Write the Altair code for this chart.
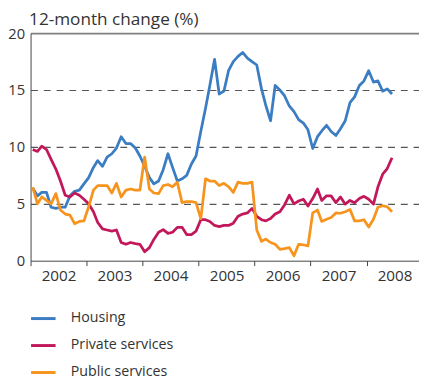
import altair as alt
import pandas as pd

series_names = ["Housing", "Private services", "Public services"]
series_colors = ["#3b7dc2", "#c2185b", "#f7941d"]

housing = [6.4, 5.7, 6.0, 6.0, 4.7, 4.6, 4.7, 4.7, 5.7, 6.1, 6.2, 6.75, 7.3, 8.2, 8.8, 8.3, 9.1, 9.4, 9.9, 10.9, 10.3,
           10.3, 9.9, 9.2, 8.3, 7.3, 6.75, 7.0, 8.0, 9.4, 8.2, 7.0, 7.2, 7.5, 8.5, 9.2, 11.35, 13.4, 15.4, 17.7,
           14.65, 14.9, 16.7, 17.5, 17.96, 18.3, 17.8, 17.5, 17.2, 15.1, 13.65, 12.3, 15.4, 15.0, 14.5, 13.6, 13.1, 12.4, 12.1, 11.5,
           9.86, 10.9, 11.4, 11.9, 11.35, 11.0, 11.6, 12.3, 13.9, 14.4, 15.4, 15.8, 16.7, 15.7, 15.8, 14.9, 15.1, 14.65]
private = [9.77, 9.6, 10.06, 9.77, 8.9, 8.05, 7.0, 5.75, 5.6, 5.95, 5.75, 5.4, 5.0, 4.3, 3.36, 2.8, 2.7, 2.6, 2.7, 1.6, 1.44,
           1.6, 1.5, 1.44, 0.78, 1.15, 1.87, 2.5, 2.73, 2.4, 2.5, 2.93, 2.93, 2.3, 2.3, 2.6, 3.6, 3.6, 3.45, 3.1,
           3.0, 3.1, 3.1, 3.3, 3.9, 4.1, 4.2, 4.6, 3.9, 3.6, 3.5, 3.7, 4.1, 4.3, 4.9, 5.75, 5.0, 5.25, 5.4, 4.8,
           5.46, 6.3, 5.3, 5.7, 5.7, 5.1, 5.6, 4.97, 5.3, 5.1, 5.46, 5.66, 5.4, 4.97, 6.47, 7.6, 8.1, 9.05]
public = [6.47, 5.0, 5.6, 5.3, 5.0, 5.9, 4.45, 4.1, 4.0, 3.25, 3.45, 3.5, 4.74, 6.2, 6.6, 6.6, 6.6, 5.95, 6.8, 5.6, 6.2,
          6.3, 6.2, 6.2, 9.1, 6.3, 5.95, 5.9, 6.6, 6.7, 6.5, 6.9, 5.1, 5.2, 5.2, 5.1, 3.7,
          7.2, 7.0, 7.0, 6.6, 6.8, 6.5, 6.0, 6.9, 6.8, 6.8, 6.9,
          2.7, 1.7, 1.9, 1.6, 1.44, 1.0, 1.06, 1.15, 0.43, 1.44, 1.4, 1.3,
          4.2, 4.45, 3.45, 3.65, 3.8, 4.2, 4.17, 4.3, 4.5, 3.5, 3.5, 3.6, 2.96, 3.65, 4.7, 4.83, 4.74, 4.3]

years = [2002, 2003, 2004, 2005, 2006, 2007, 2008]
y_ticks = [0, 5, 10, 15, 20]

dates = (pd.date_range("2002-01-01", periods=len(housing), freq="MS") + pd.Timedelta(days=14)).strftime("%Y-%m-%d")
rows = []
for name, vals in zip(series_names, [housing, private, public]):
    for d, v in zip(dates, vals):
        rows.append({"date": d, "value": v, "series": name})
df = pd.DataFrame(rows)

FONT = "Open Sans"
TXT = "#333333"

x_enc = alt.X(
    "date:T",
    scale=alt.Scale(domain=[alt.DateTime(year=2002, month=1, date=1),
                            alt.DateTime(year=2008, month=12, date=8)]),
    axis=alt.Axis(
        values=[alt.DateTime(year=y, month=1, date=1) for y in years],
        format="%Y", title=None, grid=False,
        labelOffset=28.5, labelFlush=False, labelOverlap=False, labelBound=False,
        tickSize=5, tickColor="#444444", domainColor="#444444",
        labelPadding=3, labelFontSize=15.5, labelFont=FONT, labelColor=TXT,
    ),
)
y_enc = alt.Y(
    "value:Q",
    scale=alt.Scale(domain=[0, 20], nice=False),
    axis=alt.Axis(
        values=y_ticks, ticks=False, domainColor="#444444",
        labelPadding=6, labelFontSize=15, labelFont=FONT, labelColor=TXT,
        grid=True,
        gridColor={"condition": {"test": "datum.value === 20", "value": "#7f7f7f"}, "value": "#555555"},
        gridDash={"condition": {"test": "datum.value === 20", "value": [1, 0]}, "value": [7, 6]},
        gridWidth={"condition": {"test": "datum.value === 20", "value": 1.6}, "value": 1.2},
        gridOpacity={"condition": {"test": "datum.value === 0", "value": 0}, "value": 1},
        title="12-month change (%)", titleAngle=0, titleAlign="left", titleBaseline="alphabetic",
        titleX=-2, titleY=-8.5, titleFont=FONT, titleFontSize=17.5, titleFontWeight="normal", titleColor=TXT,
    ),
)

chart = alt.Chart(df).mark_line(strokeWidth=2.8, strokeJoin="round").encode(
    x=x_enc,
    y=y_enc,
    color=alt.Color(
        "series:N",
        scale=alt.Scale(domain=series_names, range=series_colors),
        legend=alt.Legend(
            title=None, orient="none", legendX=-1, legendY=277, direction="vertical",
            symbolType="stroke", symbolStrokeWidth=3, symbolSize=625,
            labelFont=FONT, labelFontSize=14.5, labelColor=TXT, labelOffset=14,
            rowPadding=6.5, padding=0,
        ),
    ),
).properties(
    width=396, height=232,
    autosize=alt.AutoSizeParams(type="none"),
    padding={"left": 23, "top": 22, "right": 0, "bottom": 118},
).configure_view(stroke=None)

chart.save("out.html", embed_options={"renderer": "svg", "actions": False})
